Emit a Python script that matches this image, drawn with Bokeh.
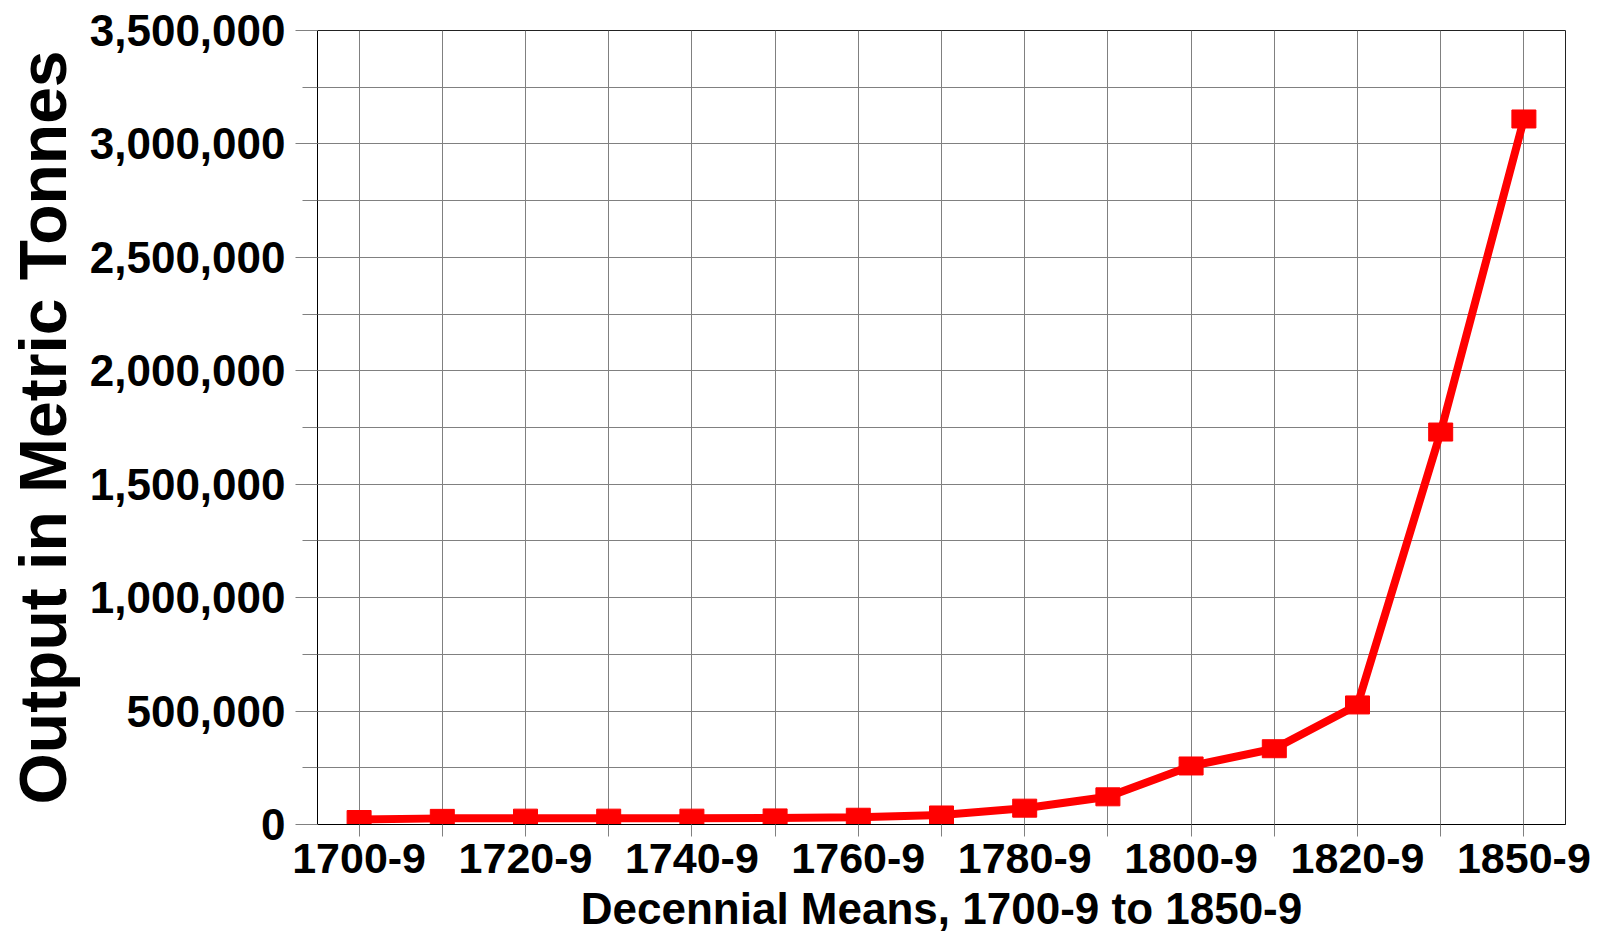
from bokeh.plotting import figure
from bokeh.models import Range1d, SingleIntervalTicker, FixedTicker, NumeralTickFormatter, ColumnDataSource
from bokeh.embed import file_html
from bokeh.resources import INLINE

# ---- data ----
decades = ["1700-9", "1710-9", "1720-9", "1730-9", "1740-9", "1750-9", "1760-9",
           "1770-9", "1780-9", "1790-9", "1800-9", "1810-9", "1820-9", "1840-9", "1850-9"]
output_tonnes = [22000, 27000, 28000, 28000, 28000, 29000, 32000,
                 42000, 72000, 122000, 258000, 334000, 527000, 1730000, 3110000]
labeled_decades = ["1700-9", "1720-9", "1740-9", "1760-9", "1780-9", "1800-9", "1820-9", "1850-9"]
x_title = "Decennial Means, 1700-9 to 1850-9"
y_title = "Output in Metric Tonnes"

FONT = "Liberation Sans"

pos = list(range(len(decades)))
src = ColumnDataSource(dict(x=pos, y=output_tonnes, name=decades))

p = figure(width=1604, height=935, output_backend="svg", toolbar_location=None,
           x_range=Range1d(-0.5, len(decades) - 0.5),
           y_range=Range1d(0, 3500000))
p.min_border_left = 317
p.min_border_top = 30
p.min_border_right = 39
p.min_border_bottom = 111

p.background_fill_color = "white"
p.border_fill_color = "white"
p.outline_line_color = "#222222"
p.outline_line_width = 1

# y axis
yax = p.yaxis[0]
yax.ticker = SingleIntervalTicker(interval=500000, num_minor_ticks=2)
yax.formatter = NumeralTickFormatter(format="0,0")
yax.major_tick_out = 22
yax.major_tick_in = 0
yax.minor_tick_out = 15
yax.minor_tick_in = 0
yax.major_tick_line_color = "#808080"
yax.minor_tick_line_color = "#808080"
yax.axis_line_color = "black"
yax.major_label_standoff = 10
yax.major_label_text_font = FONT
yax.major_label_text_font_style = "bold"
yax.major_label_text_font_size = "44px"
yax.major_label_text_color = "black"
yax.axis_label = y_title
yax.axis_label_text_font = FONT
yax.axis_label_text_font_style = "bold"
yax.axis_label_text_font_size = "66px"
yax.axis_label_text_color = "black"
yax.axis_label_standoff = 7

# x axis
xax = p.xaxis[0]
xax.ticker = FixedTicker(ticks=pos, minor_ticks=[])
xax.major_label_overrides = {i: (d if d in labeled_decades else " ") for i, d in zip(pos, decades)}
xax.major_tick_out = 12
xax.major_tick_in = 0
xax.minor_tick_out = 0
xax.major_tick_line_color = "#808080"
xax.axis_line_color = "black"
xax.major_label_standoff = -3
xax.major_label_text_font = FONT
xax.major_label_text_font_style = "bold"
xax.major_label_text_font_size = "43px"
xax.major_label_text_line_height = 1.0
xax.major_label_text_color = "black"
xax.axis_label = x_title
xax.axis_label_text_font = FONT
xax.axis_label_text_font_style = "bold"
xax.axis_label_text_font_size = "44px"
xax.axis_label_text_line_height = 1.0
xax.axis_label_text_color = "black"
xax.axis_label_standoff = -1

# grids
p.xgrid.ticker = FixedTicker(ticks=pos)
p.xgrid.grid_line_color = "#808080"
p.xgrid.grid_line_width = 1
p.ygrid.grid_line_color = "#808080"
p.ygrid.grid_line_width = 1
p.ygrid.minor_grid_line_color = "#808080"
p.ygrid.minor_grid_line_width = 1

# series
p.line("x", "y", source=src, line_color="#ff0000", line_width=8)
p.rect("x", "y", source=src, width=24, height=18, width_units="screen", height_units="screen",
       fill_color="#ff0000", line_color="#ff0000")

open("out.html", "w").write(file_html(p, INLINE))
